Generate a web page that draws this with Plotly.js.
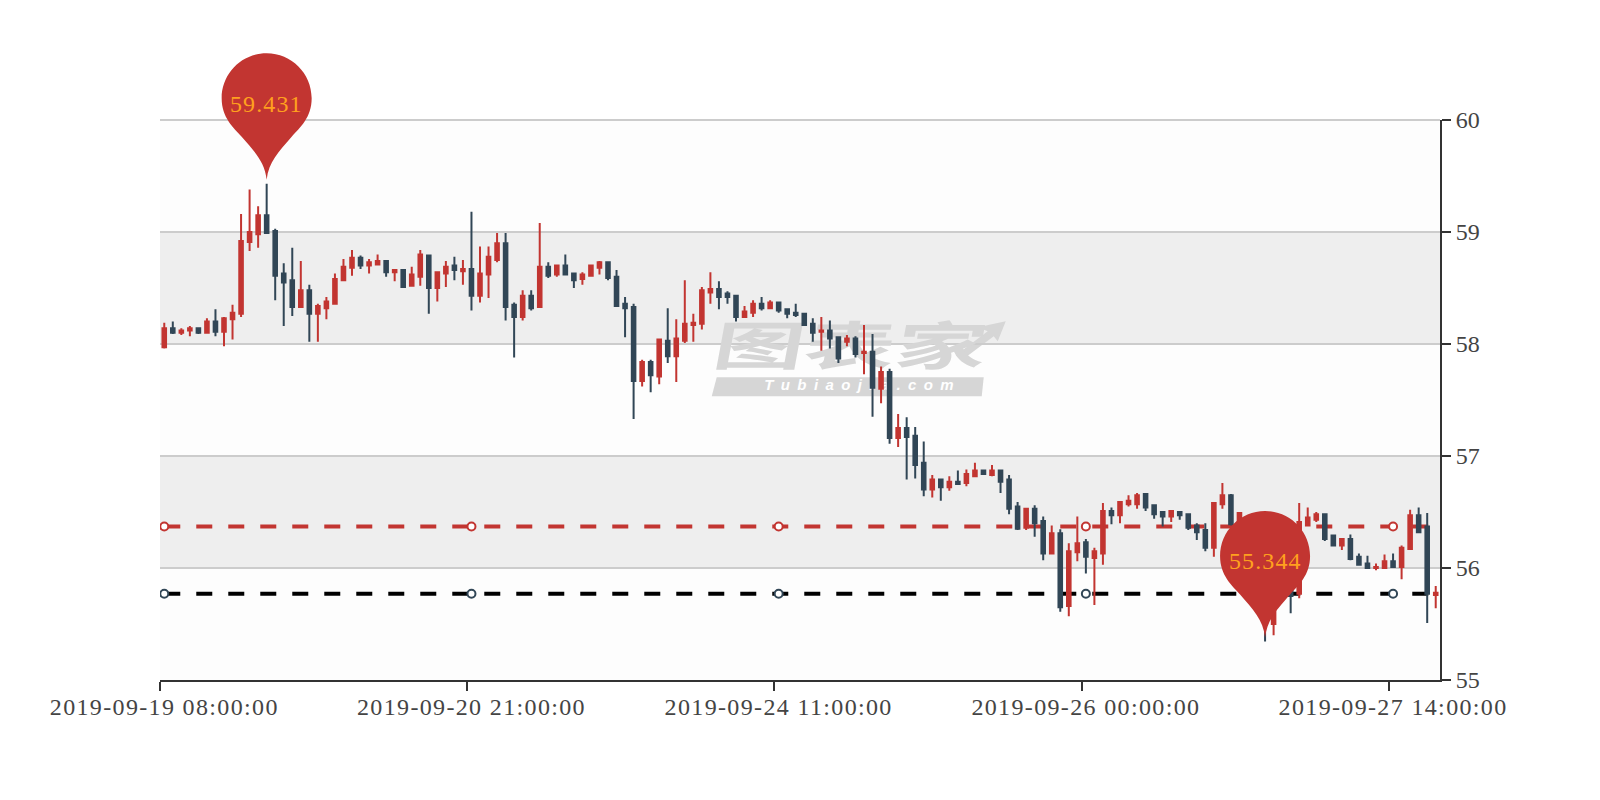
<!DOCTYPE html>
<html>
<head>
<meta charset="utf-8">
<script src="https://cdn.plot.ly/plotly-3.0.1.min.js"></script>
<style>
html,body{margin:0;padding:0;background:#fff}
#chart{width:1600px;height:800px}
.xtick text{letter-spacing:1.35px}
.annotation-text{letter-spacing:1.1px}
.scatterlayer .trace:nth-child(1) .textpoint text{transform-box:fill-box;transform-origin:center;transform:scaleX(1.75) skewX(-6deg)}
.scatterlayer .trace:nth-child(2) .textpoint text{letter-spacing:1.6px}
</style>
</head>
<body>
<div id="chart"></div>
<script>
const opens=[57.97,58.14,58.10,58.12,58.14,58.10,58.20,58.11,58.22,58.27,
58.91,58.98,59.15,59.01,58.63,58.57,58.33,58.48,58.27,58.32,
58.36,58.57,58.68,58.77,58.70,58.71,58.74,58.64,58.66,58.52,
58.60,58.79,58.50,58.63,58.70,58.65,58.67,58.43,58.62,58.75,
58.90,58.35,58.24,58.43,58.33,58.69,58.62,58.70,58.63,58.58,
58.61,58.68,58.73,58.60,58.36,58.33,57.67,57.84,57.71,58.03,
57.89,58.03,58.17,58.18,58.46,58.49,58.45,58.43,58.24,58.28,
58.36,58.32,58.37,58.31,58.28,58.27,58.18,58.11,58.12,58.06,
58.02,58.05,57.92,57.93,57.60,57.75,57.16,57.25,57.18,56.94,
56.70,56.79,56.72,56.77,56.76,56.82,56.87,56.83,56.87,56.79,
56.55,56.36,56.53,56.42,56.13,56.31,55.66,56.14,56.23,56.09,
56.13,56.51,56.47,56.57,56.57,56.66,56.56,56.50,56.46,56.50,
56.48,56.38,56.34,56.18,56.57,56.65,56.32,56.35,56.10,55.90,
55.50,55.85,56.00,55.77,56.38,56.43,56.48,56.29,56.20,56.26,
56.10,56.04,56.00,56.00,56.06,56.01,56.17,56.47,56.37,55.76];
const closes=[58.14,58.10,58.12,58.14,58.10,58.20,58.11,58.23,58.28,58.92,
59.00,59.15,58.99,58.61,58.55,58.33,58.48,58.27,58.34,58.38,
58.58,58.69,58.77,58.70,58.73,58.74,58.64,58.66,58.51,58.62,
58.80,58.50,58.64,58.69,58.66,58.67,58.43,58.63,58.78,58.90,
58.33,58.24,58.43,58.32,58.69,58.61,58.70,58.62,58.57,58.62,
58.70,58.73,58.59,58.34,58.32,57.67,57.84,57.72,58.04,57.89,
58.05,58.18,58.19,58.48,58.49,58.42,58.42,58.24,58.29,58.36,
58.32,58.37,58.30,58.27,58.26,58.17,58.10,58.12,58.05,57.87,
58.05,57.91,57.93,57.61,57.75,57.16,57.25,57.17,56.92,56.70,
56.79,56.72,56.77,56.75,56.84,56.87,56.84,56.87,56.77,56.53,
56.35,56.53,56.40,56.13,56.31,55.65,56.15,56.22,56.10,56.15,
56.51,56.47,56.59,56.60,56.65,56.54,56.48,56.46,56.51,56.47,
56.36,56.32,56.18,56.58,56.65,56.39,56.49,56.10,55.90,55.50,
55.85,56.00,55.75,56.41,56.45,56.48,56.26,56.20,56.26,56.08,
56.03,56.00,56.01,56.06,56.01,56.18,56.47,56.32,55.77,55.78];
const highs=[58.19,58.20,58.14,58.16,58.15,58.23,58.31,58.24,58.35,59.16,
59.38,59.23,59.431,59.03,58.72,58.86,58.74,58.53,58.36,58.42,
58.63,58.76,58.84,58.79,58.76,58.80,58.74,58.66,58.66,58.69,
58.84,58.79,58.64,58.74,58.78,58.75,59.18,58.87,58.87,58.99,
58.99,58.37,58.48,58.48,59.08,58.73,58.70,58.80,58.63,58.64,
58.71,58.74,58.73,58.66,58.42,58.36,57.86,57.86,58.04,58.32,
58.22,58.57,58.27,58.51,58.64,58.56,58.47,58.43,58.34,58.39,
58.42,58.39,58.37,58.31,58.36,58.28,58.23,58.24,58.21,58.06,
58.08,58.07,58.17,58.09,57.80,57.78,57.375,57.345,57.26,57.13,
56.83,56.79,56.82,56.87,56.88,56.94,56.88,56.92,56.87,56.83,
56.59,56.53,56.56,56.46,56.38,56.345,56.22,56.46,56.26,56.18,
56.58,56.54,56.59,56.65,56.67,56.66,56.56,56.50,56.51,56.50,
56.48,56.40,56.40,56.58,56.76,56.66,56.49,56.35,56.10,55.90,
55.85,56.00,56.00,56.58,56.54,56.50,56.48,56.29,56.26,56.30,
56.13,56.11,56.04,56.12,56.13,56.20,56.52,56.54,56.49,55.84];
const lows=[57.96,58.09,58.08,58.07,58.09,58.10,58.07,57.98,58.04,58.24,
58.83,58.86,58.99,58.39,58.16,58.25,58.33,58.02,58.02,58.22,
58.36,58.57,58.61,58.67,58.63,58.71,58.60,58.56,58.50,58.52,
58.52,58.27,58.38,58.51,58.57,58.53,58.30,58.37,58.41,58.73,
58.21,57.88,58.21,58.30,58.33,58.59,58.60,58.62,58.50,58.53,
58.61,58.62,58.57,58.33,58.06,57.33,57.62,57.57,57.64,57.83,
57.66,58.01,58.02,58.13,58.36,58.31,58.36,58.20,58.24,58.24,
58.30,58.32,58.28,58.23,58.24,58.17,58.02,57.94,57.96,57.83,
57.98,57.88,57.73,57.35,57.47,57.11,57.08,56.79,56.80,56.64,
56.63,56.60,56.69,56.75,56.73,56.82,56.84,56.82,56.67,56.48,
56.34,56.34,56.28,56.07,56.12,55.61,55.57,56.06,55.95,55.67,
56.03,56.39,56.40,56.55,56.53,56.51,56.44,56.37,56.41,56.43,
56.34,56.25,56.15,56.10,56.53,56.38,56.25,56.05,55.85,55.344,
55.40,55.80,55.595,55.73,56.38,56.41,56.24,56.20,56.16,56.07,
56.03,56.00,55.98,56.00,56.00,55.90,56.17,56.31,55.51,55.64];

const tickIndex=[0,36,72,108,144];
const tickBoundary=[-0.5,35.5,71.5,107.5,143.5];
const tickLabels=['2019-09-19 08:00:00','2019-09-20 21:00:00','2019-09-24 11:00:00','2019-09-26 00:00:00','2019-09-27 14:00:00'];
const yTicks=[55,56,57,58,59,60];
const lineEnds=[0,149];
const redLevel=56.37, blackLevel=55.77;
const pinIndex=[12,129];
const pinValue=[59.431,55.344];
const greyBands=[[58,59],[56,57]];
const paleBands=[[59,60],[57,58],[55,56]];

const RED='#c23531', NAVY='#314656', AXIS='#333333', LABEL='#444444', FONT='"Liberation Serif", serif';
const xRange=[-0.5,149.5], yRange=[55,60];
const idx=opens.map((_,i)=>i);
const xFrac=v=>(v-xRange[0])/(xRange[1]-xRange[0]);
const yFrac=v=>(v-yRange[0])/(yRange[1]-yRange[0]);

const pinPath='M 0 4 C 2 22 12 32 25 47 C 33 56 45 66 45 85.5 C 45 110.35 24.85 130.5 0 130.5 C -24.85 130.5 -45 110.35 -45 85.5 C -45 66 -33 56 -25 47 C -12 32 -2 22 0 4 Z';

const traces=[
 {type:'scatter',mode:'text',x:[80.5],y:[57.93],text:['图表家'],textposition:'middle center',
  textfont:{family:'"Noto Sans CJK SC"',size:52,color:'#d6d6d6',weight:700},hoverinfo:'skip',showlegend:false},
 {type:'scatter',mode:'text',x:[81.5],y:[57.625],text:['T u b i a o j i a . c o m'],textposition:'middle center',
  textfont:{family:'"Liberation Sans"',size:15,color:'#ffffff',weight:700,style:'italic'},hoverinfo:'skip',showlegend:false},
 {type:'scatter',mode:'lines',x:lineEnds,y:lineEnds.map(()=>redLevel),line:{color:RED,width:4,dash:'16px,16px'},hoverinfo:'skip',showlegend:false},
 {type:'scatter',mode:'lines',x:lineEnds,y:lineEnds.map(()=>blackLevel),line:{color:'#000000',width:4,dash:'16px,16px'},hoverinfo:'skip',showlegend:false},
 {type:'scatter',mode:'markers',x:tickIndex,y:tickIndex.map(()=>redLevel),marker:{size:8,color:'#ffffff',line:{color:RED,width:2}},hoverinfo:'skip',showlegend:false},
 {type:'scatter',mode:'markers',x:tickIndex,y:tickIndex.map(()=>blackLevel),marker:{size:8,color:'#ffffff',line:{color:NAVY,width:2}},hoverinfo:'skip',showlegend:false},
 {type:'candlestick',xaxis:'x2',yaxis:'y2',x:idx,open:opens,high:highs,low:lows,close:closes,whiskerwidth:0,
  increasing:{line:{color:RED,width:2},fillcolor:RED},decreasing:{line:{color:NAVY,width:2},fillcolor:NAVY},hoverinfo:'skip',showlegend:false}
];

const shapes=[];
greyBands.forEach(b=>shapes.push({type:'rect',layer:'below',xref:'paper',yref:'y',x0:0,x1:1,y0:b[0],y1:b[1],fillcolor:'#eeeeee',line:{width:0}}));
paleBands.forEach(b=>shapes.push({type:'rect',layer:'below',xref:'paper',yref:'y',x0:0,x1:1,y0:b[0],y1:b[1],fillcolor:'#fdfdfd',line:{width:0}}));
shapes.push({type:'line',layer:'below',xref:'paper',yref:'paper',x0:0,x1:1,y0:1,y1:1,line:{color:'#cccccc',width:2}});
shapes.push({type:'path',layer:'below',xref:'x',yref:'y',xsizemode:'pixel',ysizemode:'pixel',xanchor:81.5,yanchor:57.97,
  path:'M -143 -30 L 124 -30 L 122 -49 L -148 -49 Z',fillcolor:'#d6d6d6',line:{width:0}});
shapes.push({type:'path',layer:'below',xref:'x',yref:'y',xsizemode:'pixel',ysizemode:'pixel',xanchor:81.5,yanchor:57.97,
  path:'M 96 -8 L 128 16 L 118 20 L 146 26 L 138 6 L 134 11 L 102 -13 Z',fillcolor:'#d6d6d6',line:{width:0}});
pinIndex.forEach((x,i)=>shapes.push({type:'path',layer:'above',xref:'paper',yref:'paper',xsizemode:'pixel',ysizemode:'pixel',xanchor:xFrac(x),yanchor:yFrac(pinValue[i]),
  path:pinPath,fillcolor:RED,line:{width:0}}));

const annotations=pinIndex.map((x,i)=>({xref:'x',yref:'y',x:x,y:pinValue[i],yshift:80,text:pinValue[i].toFixed(3),showarrow:false,xanchor:'center',yanchor:'middle',
  font:{family:FONT,size:24,color:'#ffa01e'}}));

const layout={
 width:1600,height:800,paper_bgcolor:'#ffffff',plot_bgcolor:'#ffffff',showlegend:false,boxgap:0.4,
 margin:{l:160,r:160,t:120,b:120,pad:0},
 xaxis:{type:'linear',range:xRange,tickmode:'array',tickvals:tickIndex,ticktext:tickLabels,ticks:'outside',ticklen:5,tickcolor:'rgba(0,0,0,0)',
   showgrid:false,zeroline:false,showline:false,tickangle:0,tickfont:{family:FONT,size:24,color:LABEL},rangeslider:{visible:false}},
 yaxis:{side:'right',range:yRange,tickmode:'array',tickvals:yTicks,ticks:'outside',ticklen:9,tickwidth:2,tickcolor:AXIS,showline:true,linecolor:AXIS,linewidth:2,
   showgrid:true,gridcolor:'#cccccc',gridwidth:2,zeroline:false,tickfont:{family:FONT,size:24,color:LABEL}},
 xaxis2:{type:'linear',overlaying:'x',anchor:'y2',range:xRange,tickmode:'array',tickvals:tickBoundary,ticktext:tickBoundary.map(()=>''),ticks:'outside',ticklen:9,tickwidth:2,tickcolor:AXIS,
   showline:true,linecolor:AXIS,linewidth:2,showgrid:false,zeroline:false,rangeslider:{visible:false}},
 yaxis2:{overlaying:'y',anchor:'x2',side:'right',range:yRange,showticklabels:false,ticks:'',showgrid:false,zeroline:false,showline:false},
 shapes:shapes,annotations:annotations
};
Plotly.newPlot('chart',traces,layout,{displayModeBar:false,responsive:false});
</script>
</body>
</html>
